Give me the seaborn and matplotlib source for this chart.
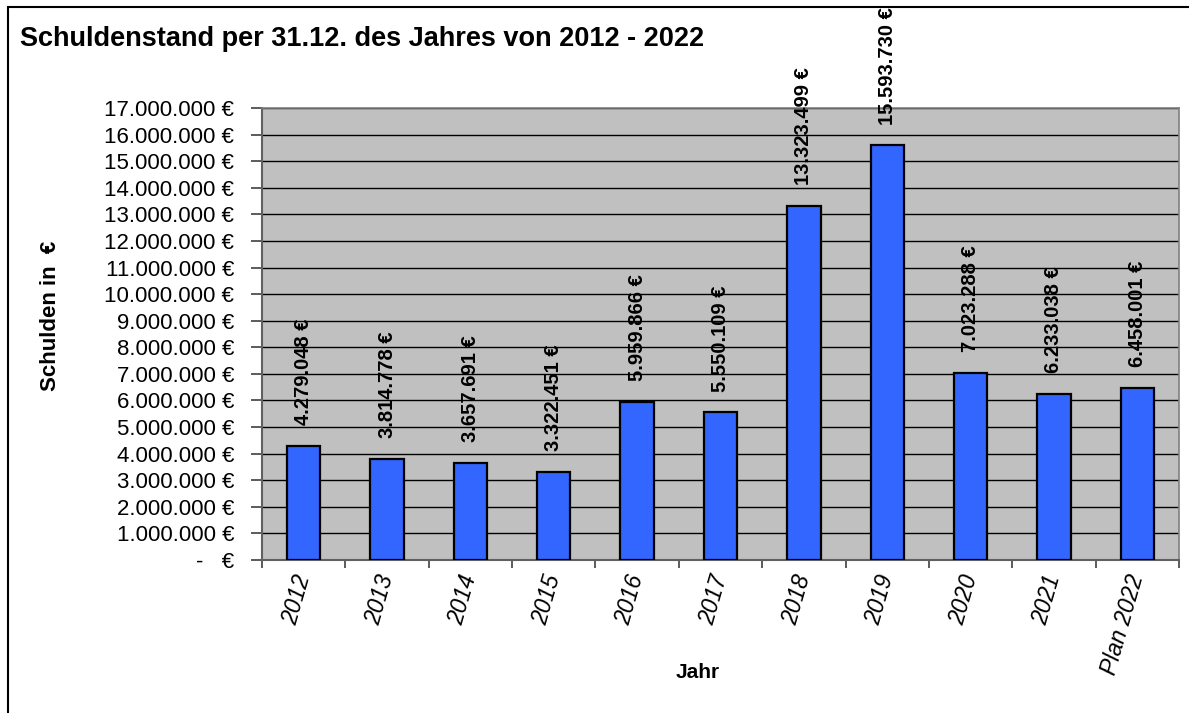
import matplotlib
matplotlib.use("Agg")
import matplotlib.pyplot as plt
import matplotlib.ticker as mticker
from matplotlib.patches import Rectangle
import seaborn as sns
import pandas as pd

# Daten
jahre = ["2012", "2013", "2014", "2015", "2016", "2017", "2018", "2019", "2020", "2021", "Plan 2022"]
schulden = [4279048, 3814778, 3657691, 3322451, 5959866, 5550109,
            13323499, 15593730, 7023288, 6233038, 6458001]

df = pd.DataFrame({"jahr": jahre, "schulden": schulden})

sns.set_style("white")
plt.rcParams['font.family'] = ['Liberation Sans', 'DejaVu Sans']
plt.rcParams['text.color'] = 'black'
plt.rcParams['axes.labelcolor'] = 'black'
plt.rcParams['xtick.color'] = 'black'
plt.rcParams['ytick.color'] = 'black'


def euro(v, pos=None):
    if v == 0:
        return "-   €"
    return f"{int(round(v)):,}".replace(",", ".") + " €"


fig = plt.figure(figsize=(11.89, 7.13), dpi=100)
ax = fig.add_axes([262 / 1189, 1 - 560 / 713, (1179 - 262) / 1189, (560 - 108) / 713])
ax.set_facecolor("#C0C0C0")

sns.barplot(data=df, x="jahr", y="schulden", ax=ax, color="#3366FF",
            width=0.4, edgecolor="black", linewidth=1.6, saturation=1, zorder=3)

ax.set_ylim(0, 17000000)
ax.set_xlim(-0.5, len(jahre) - 0.5)
ax.yaxis.set_major_locator(mticker.MultipleLocator(1000000))
ax.yaxis.set_major_formatter(mticker.FuncFormatter(euro))
ax.grid(axis="y", color="black", linewidth=1.0, zorder=0)
ax.set_axisbelow(True)

for s in ["top", "right"]:
    ax.spines[s].set_color("#808080")
    ax.spines[s].set_linewidth(1.2)
for s in ["left", "bottom"]:
    ax.spines[s].set_color("#606060")
    ax.spines[s].set_linewidth(1.5)

ax.tick_params(axis="y", length=8, width=1.2, color="#404040", labelsize=16, pad=12, left=True)
ax.set_xticks(range(len(jahre)))
ax.set_xticklabels(jahre, rotation=74, ha="right", va="center", rotation_mode="anchor",
                   fontstyle="italic", fontsize=16.5)
ax.tick_params(axis="x", which="major", length=0, pad=11)
ax.set_xticks([i - 0.5 for i in range(len(jahre) + 1)], minor=True)
ax.tick_params(axis="x", which="minor", length=6, width=1.2, color="#404040", bottom=True)
ax.set_xlabel("")
ax.set_ylabel("")

# Werte ueber den Balken
for i, v in enumerate(schulden):
    ax.annotate(euro(v), (i, v), xytext=(0, 15), textcoords="offset points",
                rotation=90, ha="center", va="bottom", fontsize=14.5, fontweight="bold")

fig.text(20 / 1189, 1 - 45.5 / 713, "Schuldenstand per 31.12. des Jahres von 2012 - 2022",
         fontsize=19.5, fontweight="bold", ha="left", va="baseline")
fig.text(51 / 1189, 1 - 316 / 713, "Schulden in  €", rotation=90, fontsize=16,
         fontweight="bold", ha="center", va="center")
fig.text(698 / 1189, 1 - 672 / 713, "Jahr", fontsize=15, fontweight="bold",
         ha="center", va="center")

# Rahmen um das Diagramm
fig.patches.append(Rectangle((8 / 1189, -0.05), 1.1, 1 - 7 / 713 + 0.05,
                             transform=fig.transFigure, fill=False,
                             edgecolor="black", linewidth=1.5))

fig.savefig("out.png", dpi=100)
